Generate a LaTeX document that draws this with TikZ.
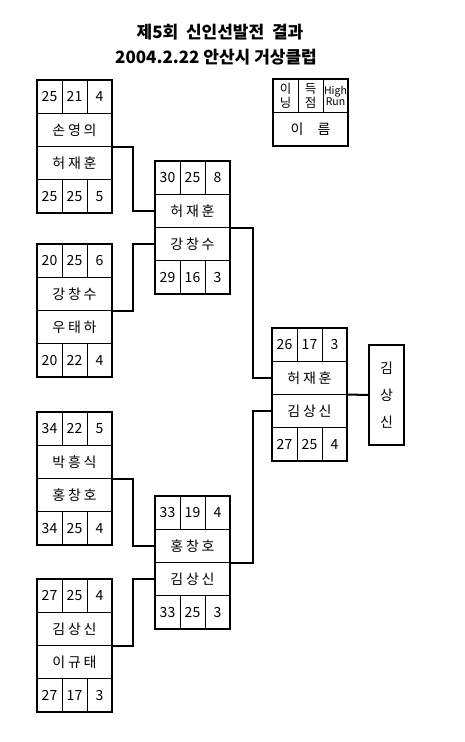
\documentclass[tikz,border=0pt]{standalone}
\usepackage{fontspec}
\usepackage{tikz}
\usetikzlibrary{positioning}
\setmainfont{Noto Sans CJK KR}
\newfontfamily\namefont{Noto Sans CJK KR}[LetterSpace=20]

\begin{document}
\begin{tikzpicture}[x=1pt, y=-1pt]
    \tikzstyle{score cell}=[
        draw = black,
        line width = 0.8pt,
        minimum width = 25pt,
        minimum height = 33.25pt,
        inner sep = 0pt,
        outer sep = 0pt,
        align = center,
        font = \fontsize{14}{16}\selectfont
    ]
    \tikzstyle{name cell}=[
        score cell,
        minimum width = 75pt,
        font = \fontsize{14}{16}\namefont
    ]
    \tikzstyle{outline}=[
        draw = black,
        line width = 2pt
    ]
    \tikzstyle{link}=[
        draw = black,
        line width = 2pt
    ]

    \useasboundingbox (0,0) rectangle (465,742);

    % title
    \node[font=\fontsize{17}{20}\selectfont\bfseries] (t1) at (220,32) {제5회 \ 신인선발전 \ 결과};
    \node[font=\fontsize{17}{20}\selectfont\bfseries] (t2) at (216,57) {2004.2.22 안산시 거상클럽};

    % legend
    \node[score cell, anchor=north west, font=\fontsize{12.5}{14}\selectfont] (lg1) at (273,79) {이\\닝};
    \node[score cell, right=0pt of lg1, font=\fontsize{12.5}{14}\selectfont] (lg2) {득\\점};
    \node[score cell, right=0pt of lg2, font=\fontsize{10.5}{11}\selectfont] (lg3) {High\\Run};
    \node[name cell, anchor=north west] (lg4) at (lg1.south west) {이\quad 름};
    \draw[outline] (lg1.north west) rectangle (lg4.south east);

    % match 1
    \node[name cell, anchor=north west] (m1a) at (37,113.25) {손영의};
    \node[name cell, below=0pt of m1a]  (m1b) {허재훈};
    \node[score cell, anchor=south west] (m1p1) at (m1a.north west) {25};
    \node[score cell, right=0pt of m1p1] (m1p2) {21};
    \node[score cell, right=0pt of m1p2] (m1p3) {4};
    \node[score cell, anchor=north west] (m1q1) at (m1b.south west) {25};
    \node[score cell, right=0pt of m1q1] (m1q2) {25};
    \node[score cell, right=0pt of m1q2] (m1q3) {5};
    \draw[outline] (m1p1.north west) rectangle (m1q3.south east);

    % match 2
    \node[name cell, anchor=north west] (m2a) at (155,194.25) {허재훈};
    \node[name cell, below=0pt of m2a]  (m2b) {강창수};
    \node[score cell, anchor=south west] (m2p1) at (m2a.north west) {30};
    \node[score cell, right=0pt of m2p1] (m2p2) {25};
    \node[score cell, right=0pt of m2p2] (m2p3) {8};
    \node[score cell, anchor=north west] (m2q1) at (m2b.south west) {29};
    \node[score cell, right=0pt of m2q1] (m2q2) {16};
    \node[score cell, right=0pt of m2q2] (m2q3) {3};
    \draw[outline] (m2p1.north west) rectangle (m2q3.south east);

    % match 3
    \node[name cell, anchor=north west] (m3a) at (37,277.25) {강창수};
    \node[name cell, below=0pt of m3a]  (m3b) {우태하};
    \node[score cell, anchor=south west] (m3p1) at (m3a.north west) {20};
    \node[score cell, right=0pt of m3p1] (m3p2) {25};
    \node[score cell, right=0pt of m3p2] (m3p3) {6};
    \node[score cell, anchor=north west] (m3q1) at (m3b.south west) {20};
    \node[score cell, right=0pt of m3q1] (m3q2) {22};
    \node[score cell, right=0pt of m3q2] (m3q3) {4};
    \draw[outline] (m3p1.north west) rectangle (m3q3.south east);

    % match 4
    \node[name cell, anchor=north west] (m4a) at (37,445.25) {박흥식};
    \node[name cell, below=0pt of m4a]  (m4b) {홍창호};
    \node[score cell, anchor=south west] (m4p1) at (m4a.north west) {34};
    \node[score cell, right=0pt of m4p1] (m4p2) {22};
    \node[score cell, right=0pt of m4p2] (m4p3) {5};
    \node[score cell, anchor=north west] (m4q1) at (m4b.south west) {34};
    \node[score cell, right=0pt of m4q1] (m4q2) {25};
    \node[score cell, right=0pt of m4q2] (m4q3) {4};
    \draw[outline] (m4p1.north west) rectangle (m4q3.south east);

    % match 5 (final)
    \node[name cell, anchor=north west] (m5a) at (272,361.25) {허재훈};
    \node[name cell, below=0pt of m5a]  (m5b) {김상신};
    \node[score cell, anchor=south west] (m5p1) at (m5a.north west) {26};
    \node[score cell, right=0pt of m5p1] (m5p2) {17};
    \node[score cell, right=0pt of m5p2] (m5p3) {3};
    \node[score cell, anchor=north west] (m5q1) at (m5b.south west) {27};
    \node[score cell, right=0pt of m5q1] (m5q2) {25};
    \node[score cell, right=0pt of m5q2] (m5q3) {4};
    \draw[outline] (m5p1.north west) rectangle (m5q3.south east);

    % match 6
    \node[name cell, anchor=north west] (m6a) at (155,529.25) {홍창호};
    \node[name cell, below=0pt of m6a]  (m6b) {김상신};
    \node[score cell, anchor=south west] (m6p1) at (m6a.north west) {33};
    \node[score cell, right=0pt of m6p1] (m6p2) {19};
    \node[score cell, right=0pt of m6p2] (m6p3) {4};
    \node[score cell, anchor=north west] (m6q1) at (m6b.south west) {33};
    \node[score cell, right=0pt of m6q1] (m6q2) {25};
    \node[score cell, right=0pt of m6q2] (m6q3) {3};
    \draw[outline] (m6p1.north west) rectangle (m6q3.south east);

    % match 7
    \node[name cell, anchor=north west] (m7a) at (37,612.25) {김상신};
    \node[name cell, below=0pt of m7a]  (m7b) {이규태};
    \node[score cell, anchor=south west] (m7p1) at (m7a.north west) {27};
    \node[score cell, right=0pt of m7p1] (m7p2) {25};
    \node[score cell, right=0pt of m7p2] (m7p3) {4};
    \node[score cell, anchor=north west] (m7q1) at (m7b.south west) {27};
    \node[score cell, right=0pt of m7q1] (m7q2) {17};
    \node[score cell, right=0pt of m7q2] (m7q3) {3};
    \draw[outline] (m7p1.north west) rectangle (m7q3.south east);

    % winner
    \node[outline, minimum width=35pt, minimum height=100pt, inner sep=0pt, align=center,
          font=\fontsize{14}{27}\selectfont] (win) at (386.5,395) {김\\상\\신};

    % bracket lines
    \draw[link] (m1a.south east) -- ++(21,0) |- (m2a.west);
    \draw[link] (m3a.south east) -- ++(21,0) |- (m2b.west);
    \draw[link] (m4a.south east) -- ++(21,0) |- (m6a.west);
    \draw[link] (m7a.south east) -- ++(21,0) |- (m6b.west);
    \draw[link] (m2a.south east) -- ++(23,0) |- (m5a.west);
    \draw[link] (m6a.south east) -- ++(23,0) |- (m5b.west);
    \draw[link] (m5a.south east) -- (win.west);

\end{tikzpicture}
\end{document}
